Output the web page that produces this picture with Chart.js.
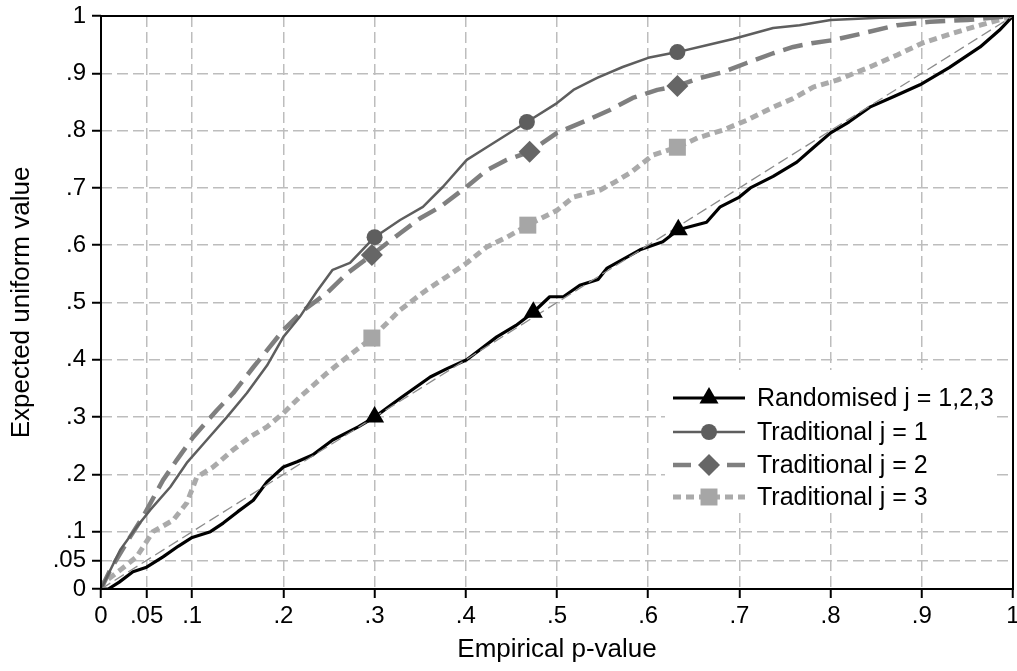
<!DOCTYPE html>
<html>
<head>
<meta charset="utf-8">
<script src="https://cdn.jsdelivr.net/npm/chart.js@4/dist/chart.umd.min.js"></script>
<style>
  html, body { margin: 0; padding: 0; background: #fff; }
  #wrap { width: 1017px; height: 671px; }
</style>
</head>
<body>
<div id="wrap"><canvas id="ppChart" width="1017" height="671"></canvas></div>
<script>
// tick positions and their labels (same on both axes)
const tickValues = [0, 0.05, 0.1, 0.2, 0.3, 0.4, 0.5, 0.6, 0.7, 0.8, 0.9, 1];
const tickLabels = ['0', '.05', '.1', '.2', '.3', '.4', '.5', '.6', '.7', '.8', '.9', '1'];

const seriesNames = ['Randomised j = 1,2,3', 'Traditional j = 1', 'Traditional j = 2', 'Traditional j = 3'];

// 45 degree reference line
const diagonal = [[0, 0], [1, 1]];

// [empirical p-value, expected uniform value]
const randomised = [
  [0, 0], [0.008, 0], [0.02, 0.012], [0.035, 0.03], [0.05, 0.038], [0.068, 0.056],
  [0.085, 0.075], [0.1, 0.09], [0.12, 0.1], [0.134, 0.115], [0.15, 0.135], [0.167, 0.155],
  [0.182, 0.187], [0.2, 0.213], [0.215, 0.222], [0.232, 0.234], [0.254, 0.26], [0.282, 0.283],
  [0.3, 0.3], [0.33, 0.335], [0.361, 0.37], [0.38, 0.385], [0.401, 0.4], [0.434, 0.44],
  [0.455, 0.46], [0.474, 0.483], [0.492, 0.51], [0.507, 0.51], [0.525, 0.53], [0.545, 0.54],
  [0.555, 0.56], [0.591, 0.592], [0.616, 0.606], [0.633, 0.627], [0.664, 0.64], [0.679, 0.667],
  [0.7, 0.684], [0.712, 0.7], [0.737, 0.72], [0.763, 0.745], [0.781, 0.77], [0.8, 0.796],
  [0.82, 0.815], [0.843, 0.841], [0.87, 0.86], [0.898, 0.88], [0.93, 0.91], [0.964, 0.946],
  [0.985, 0.975], [1, 1]
];
const traditional1 = [
  [0, 0], [0.021, 0.068], [0.039, 0.108], [0.054, 0.138], [0.076, 0.178], [0.094, 0.22],
  [0.116, 0.26], [0.138, 0.3], [0.16, 0.342], [0.182, 0.39], [0.2, 0.44], [0.218, 0.475],
  [0.237, 0.52], [0.254, 0.557], [0.273, 0.569], [0.3, 0.614], [0.328, 0.644], [0.353, 0.667],
  [0.375, 0.702], [0.401, 0.749], [0.423, 0.771], [0.467, 0.815], [0.5, 0.848], [0.518, 0.871],
  [0.544, 0.892], [0.572, 0.911], [0.6, 0.927], [0.632, 0.937], [0.664, 0.949], [0.693, 0.96],
  [0.737, 0.979], [0.766, 0.984], [0.8, 0.993], [0.854, 0.997], [0.898, 0.998], [1, 1]
];
const traditional2 = [
  [0, 0], [0.01, 0.033], [0.032, 0.091], [0.046, 0.126], [0.068, 0.19], [0.083, 0.225],
  [0.101, 0.265], [0.127, 0.312], [0.145, 0.342], [0.167, 0.387], [0.2, 0.452], [0.221, 0.485],
  [0.248, 0.517], [0.27, 0.551], [0.297, 0.583], [0.328, 0.621], [0.35, 0.647], [0.372, 0.667],
  [0.401, 0.702], [0.423, 0.731], [0.445, 0.749], [0.47, 0.763], [0.5, 0.796], [0.533, 0.818],
  [0.558, 0.836], [0.583, 0.857], [0.61, 0.871], [0.632, 0.878], [0.657, 0.892], [0.682, 0.902],
  [0.708, 0.918], [0.737, 0.935], [0.759, 0.946], [0.781, 0.953], [0.803, 0.958], [0.836, 0.97],
  [0.873, 0.984], [0.909, 0.99], [0.95, 0.993], [1, 1]
];
const traditional3 = [
  [0, 0], [0.002, 0.01], [0.021, 0.033], [0.039, 0.056], [0.057, 0.1], [0.079, 0.12],
  [0.094, 0.15], [0.105, 0.195], [0.123, 0.213], [0.145, 0.243], [0.163, 0.265], [0.182, 0.283],
  [0.2, 0.307], [0.218, 0.335], [0.248, 0.377], [0.27, 0.405], [0.297, 0.438], [0.328, 0.487],
  [0.357, 0.522], [0.379, 0.545], [0.401, 0.569], [0.423, 0.597], [0.445, 0.614], [0.468, 0.635],
  [0.5, 0.661], [0.518, 0.684], [0.547, 0.696], [0.561, 0.708], [0.58, 0.726], [0.605, 0.757],
  [0.632, 0.771], [0.654, 0.787], [0.682, 0.801], [0.708, 0.818], [0.737, 0.841], [0.759, 0.856],
  [0.781, 0.876], [0.807, 0.888], [0.843, 0.911], [0.873, 0.932], [0.901, 0.953], [0.934, 0.97],
  [0.964, 0.984], [1, 1]
];

// the three marked points on each curve
const randomisedMarks = [[0.3, 0.3], [0.474, 0.483], [0.633, 0.627]];
const traditional1Marks = [[0.3, 0.614], [0.467, 0.815], [0.632, 0.937]];
const traditional2Marks = [[0.297, 0.583], [0.47, 0.763], [0.632, 0.878]];
const traditional3Marks = [[0.297, 0.438], [0.468, 0.635], [0.632, 0.771]];

const toXY = arr => arr.map(p => ({ x: p[0], y: p[1] }));

const styles = [
  { color: '#000000', mark: '#000000', width: 3.2, dash: [], shape: 'triangle', r: 11 },
  { color: '#5e5e5e', mark: '#5e5e5e', width: 2.5, dash: [], shape: 'circle', r: 8 },
  { color: '#7f7f7f', mark: '#666666', width: 4.5, dash: [20, 9], shape: 'rectRot', r: 11 },
  { color: '#aaaaaa', mark: '#a6a6a6', width: 5, dash: [8, 5], shape: 'rect', r: 12 }
];
const curves = [randomised, traditional1, traditional2, traditional3];
const marks = [randomisedMarks, traditional1Marks, traditional2Marks, traditional3Marks];

const datasets = [{
  label: 'diagonal',
  data: toXY(diagonal),
  showLine: true,
  borderColor: '#8c8c8c',
  borderWidth: 1.3,
  borderDash: [11, 5],
  pointRadius: 0,
  order: 1
}];
curves.forEach((c, i) => {
  datasets.push({
    label: seriesNames[i],
    data: toXY(c),
    showLine: true,
    borderColor: styles[i].color,
    borderWidth: styles[i].width,
    borderDash: styles[i].dash,
    borderJoinStyle: 'round',
    pointRadius: 0,
    order: 2 + i
  });
  datasets.push({
    label: seriesNames[i] + ' marks',
    data: toXY(marks[i]),
    showLine: false,
    pointStyle: styles[i].shape,
    pointRadius: styles[i].r,
    pointBackgroundColor: styles[i].mark,
    pointBorderColor: styles[i].mark,
    pointBorderWidth: 0,
    order: 0
  });
});

function drawMarker(ctx, shape, x, y, r, color) {
  ctx.save();
  ctx.fillStyle = color;
  ctx.beginPath();
  if (shape === 'circle') {
    ctx.arc(x, y, r, 0, Math.PI * 2);
  } else if (shape === 'triangle') {
    ctx.moveTo(x, y - r);
    ctx.lineTo(x + r * 0.866, y + r * 0.5);
    ctx.lineTo(x - r * 0.866, y + r * 0.5);
    ctx.closePath();
  } else if (shape === 'rectRot') {
    ctx.moveTo(x, y - r);
    ctx.lineTo(x + r, y);
    ctx.lineTo(x, y + r);
    ctx.lineTo(x - r, y);
    ctx.closePath();
  } else {
    const s = r * Math.SQRT1_2;
    ctx.rect(x - s, y - s, 2 * s, 2 * s);
  }
  ctx.fill();
  ctx.restore();
}

const FAMILY = '"Liberation Sans", Arial, sans-serif';

const framePlugin = {
  id: 'frameAndLegend',
  // keep the plot running to 4px from the right edge, as in the original
  afterLayout(chart) {
    const a = chart.chartArea;
    const want = chart.width - 4;
    if (Math.abs(a.right - want) > 0.5) {
      a.right = want;
      a.width = a.right - a.left;
      const xs = chart.scales.x;
      xs.right = want;
      xs.width = want - xs.left;
      xs.configure();
    }
  },
  afterDatasetsDraw(chart) {
    const ctx = chart.ctx;
    const a = chart.chartArea;

    // legend box inside plot, lower right
    ctx.save();
    ctx.fillStyle = '#ffffff';
    ctx.fillRect(a.right - 348, a.bottom - 219, 331, 143);
    const rows = [a.bottom - 191, a.bottom - 157, a.bottom - 124, a.bottom - 92];
    ctx.font = '25px ' + FAMILY;
    ctx.textBaseline = 'middle';
    rows.forEach((y, i) => {
      const st = styles[i];
      ctx.save();
      ctx.strokeStyle = st.color;
      ctx.lineWidth = st.width;
      ctx.setLineDash(i === 2 ? [18, 9] : st.dash);
      ctx.beginPath();
      ctx.moveTo(a.right - 340, y);
      ctx.lineTo(a.right - 268, y);
      ctx.stroke();
      ctx.restore();
      drawMarker(ctx, st.shape, a.right - 304, y, st.r, st.mark);
      ctx.fillStyle = '#000';
      ctx.fillText(seriesNames[i], a.right - 256, y + 1);
    });
    ctx.restore();

    // black frame round the plot
    ctx.save();
    ctx.strokeStyle = '#000';
    ctx.lineWidth = 2;
    ctx.strokeRect(a.left, a.top, a.right - a.left, a.bottom - a.top);
    ctx.restore();

    // axis titles
    ctx.save();
    ctx.font = '26px ' + FAMILY;
    ctx.fillStyle = '#000';
    ctx.textAlign = 'center';
    ctx.textBaseline = 'middle';
    ctx.fillText('Empirical p-value', (a.left + a.right) / 2, 650);
    ctx.translate(22, (a.top + a.bottom) / 2);
    ctx.rotate(-Math.PI / 2);
    ctx.fillText('Expected uniform value', 0, 0);
    ctx.restore();
  }
};

function axis(horizontal) {
  return {
    type: 'linear',
    min: 0,
    max: 1,
    afterBuildTicks: s => { s.ticks = tickValues.map(v => ({ value: v })); },
    afterFit: s => {
      if (horizontal) { s.height = 82; } else { s.width = 101; }
      s.paddingLeft = 0; s.paddingRight = 0; s.paddingTop = 0; s.paddingBottom = 0;
    },
    ticks: {
      autoSkip: false,
      maxRotation: 0,
      padding: horizontal ? 4 : 6,
      color: '#000',
      font: { family: FAMILY, size: 24 },
      callback: (v, i) => tickLabels[i]
    },
    grid: {
      color: '#bdbdbd',
      lineWidth: 1.5,
      tickLength: 9,
      tickColor: '#000',
      tickWidth: 2
    },
    border: { display: false, dash: [11, 5] }
  };
}

const chart = new Chart(document.getElementById('ppChart'), {
  type: 'scatter',
  data: { datasets: datasets },
  options: {
    responsive: false,
    animation: false,
    layout: { padding: { top: 16, right: 4, left: 0, bottom: 0 } },
    plugins: { legend: { display: false }, tooltip: { enabled: false } },
    scales: { x: axis(true), y: axis(false) },
    elements: { line: { tension: 0 } }
  },
  plugins: [framePlugin]
});
</script>
</body>
</html>
